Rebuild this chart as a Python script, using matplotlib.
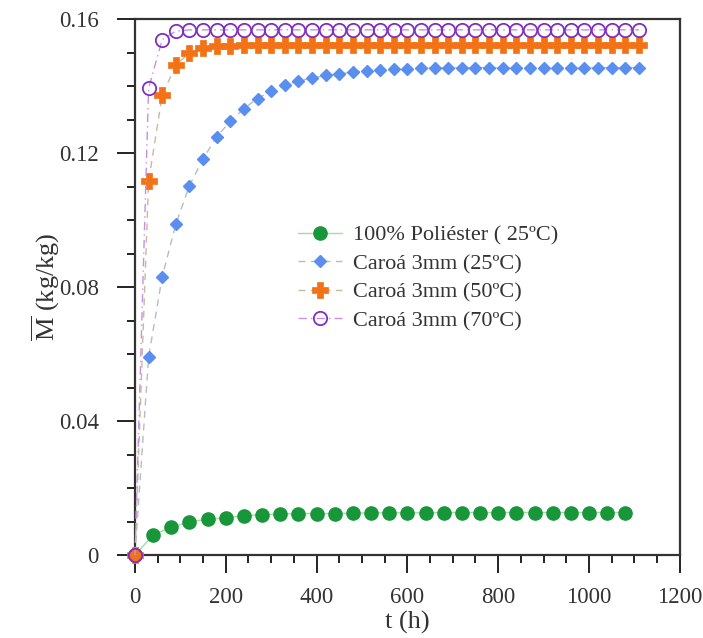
import matplotlib
matplotlib.use("Agg")
import matplotlib.pyplot as plt
from matplotlib.ticker import MultipleLocator, FuncFormatter

plt.rcParams["font.family"] = ["Liberation Serif", "DejaVu Serif"]
plt.rcParams["mathtext.fontset"] = "custom"
plt.rcParams["mathtext.rm"] = "Liberation Serif"
plt.rcParams["mathtext.it"] = "Liberation Serif:italic"

# Sorption time (h)
t_poliester = [0, 40, 80, 120, 160, 200, 240, 280, 320, 360, 400, 440, 480, 520,
               560, 600, 640, 680, 720, 760, 800, 840, 880, 920, 960, 1000, 1040, 1080]
t_caroa = [0, 30, 60, 90, 120, 150, 180, 210, 240, 270, 300, 330, 360, 390, 420,
           450, 480, 510, 540, 570, 600, 630, 660, 690, 720, 750, 780, 810, 840,
           870, 900, 930, 960, 990, 1020, 1050, 1080, 1110]

# Mean moisture content (kg/kg)
m_poliester_25 = [0.0, 0.0060, 0.0083, 0.0099, 0.0107, 0.0111, 0.0117, 0.0121,
                  0.0122, 0.0124, 0.0124, 0.0124, 0.0125, 0.0126, 0.0126, 0.0126,
                  0.0126, 0.0127, 0.0127, 0.0127, 0.0127, 0.0127, 0.0127, 0.0127,
                  0.0127, 0.0127, 0.0127, 0.0127]
m_caroa_25 = [0.0, 0.0591, 0.0831, 0.0988, 0.1103, 0.1183, 0.1249, 0.1295, 0.1333,
              0.1363, 0.1386, 0.1403, 0.1416, 0.1424, 0.1432, 0.1436, 0.1442, 0.1446,
              0.1448, 0.1451, 0.1452, 0.1453, 0.1454, 0.1454, 0.1455, 0.1455, 0.1455,
              0.1455, 0.1455, 0.1455, 0.1455, 0.1455, 0.1455, 0.1455, 0.1455, 0.1455,
              0.1455, 0.1455]
m_caroa_50 = [0.0, 0.1116, 0.1373, 0.1463, 0.1499, 0.1514, 0.1519, 0.1521, 0.1522,
              0.1522, 0.1522, 0.1522, 0.1522, 0.1522, 0.1522, 0.1522, 0.1522, 0.1522,
              0.1522, 0.1522, 0.1522, 0.1522, 0.1522, 0.1522, 0.1522, 0.1522, 0.1522,
              0.1522, 0.1522, 0.1522, 0.1522, 0.1522, 0.1522, 0.1522, 0.1522, 0.1522,
              0.1522, 0.1522]
m_caroa_70 = [0.0, 0.1394, 0.1539, 0.1564, 0.1568, 0.1568, 0.1568, 0.1568, 0.1568,
              0.1568, 0.1568, 0.1568, 0.1568, 0.1568, 0.1568, 0.1568, 0.1568, 0.1568,
              0.1568, 0.1568, 0.1568, 0.1568, 0.1568, 0.1568, 0.1568, 0.1568, 0.1568,
              0.1568, 0.1568, 0.1568, 0.1568, 0.1568, 0.1568, 0.1568, 0.1568, 0.1568,
              0.1568, 0.1568]

labels = ["100% Poliéster ( 25ºC)", "Caroá 3mm (25ºC)",
          "Caroá 3mm (50ºC)", "Caroá 3mm (70ºC)"]

fig = plt.figure(figsize=(7.03, 6.38), dpi=100)
ax = fig.add_axes([0.192, 0.130, 0.775, 0.840])

ax.plot(t_poliester, m_poliester_25, linestyle="-", color="#9ee09e", linewidth=1.0,
        marker="o", markersize=9.5, markerfacecolor="#18963a",
        markeredgecolor="#18963a", label=labels[0], clip_on=False, zorder=3)
ax.plot(t_caroa, m_caroa_25, linestyle=(0, (5, 4)), color="#b4bcc4", linewidth=1.0,
        marker="D", markersize=6, markerfacecolor="#5a8ff0",
        markeredgecolor="#5a8ff0", label=labels[1], clip_on=False, zorder=4)
ax.plot(t_caroa, m_caroa_50, linestyle=(0, (5, 4)), color="#c8b8a0", linewidth=1.0,
        marker="P", markersize=12, markerfacecolor="#f27215",
        markeredgecolor="#f27215", markeredgewidth=0.5,
        label=labels[2], clip_on=False, zorder=5)
ax.plot(t_caroa, m_caroa_70, linestyle=(0, (6, 3, 1, 3)), color="#c890e0", linewidth=1.0,
        marker="o", markersize=9.6, markerfacecolor="none",
        markeredgecolor="#7e30c0", markeredgewidth=1.3,
        label=labels[3], clip_on=False, zorder=6)

ax.set_xlim(0, 1200)
ax.set_ylim(0, 0.16)
ax.xaxis.set_major_locator(MultipleLocator(200))
ax.xaxis.set_minor_locator(MultipleLocator(50))
ax.yaxis.set_major_locator(MultipleLocator(0.04))
ax.yaxis.set_minor_locator(MultipleLocator(0.01))
ax.yaxis.set_major_formatter(FuncFormatter(lambda v, p: f"{v:g}"))

ax.tick_params(which="both", direction="out", top=False, right=False,
               width=1.4, colors="#222222", labelsize=16.5, labelcolor="#333333")
ax.tick_params(axis="x", which="major", length=13, pad=10)
ax.tick_params(axis="y", which="major", length=13, pad=13)
ax.tick_params(which="minor", length=5.5)
for sp in ax.spines.values():
    sp.set_linewidth(1.6)
    sp.set_color("#333333")

ax.set_xlabel("t (h)", fontsize=19, color="#333333", labelpad=2)
ax.set_ylabel(r"$\overline{\mathrm{M}}$ (kg/kg)", fontsize=19, color="#333333")
ax.yaxis.set_label_coords(-0.134, 0.5)

leg = ax.legend(loc="upper left", bbox_to_anchor=(0.299, 0.616), frameon=False,
                fontsize=16, handlelength=2.0, handletextpad=0.5,
                labelspacing=0.36, borderaxespad=0, borderpad=0)
for txt in leg.get_texts():
    txt.set_color("#333333")

fig.savefig("out.png", dpi=100)
